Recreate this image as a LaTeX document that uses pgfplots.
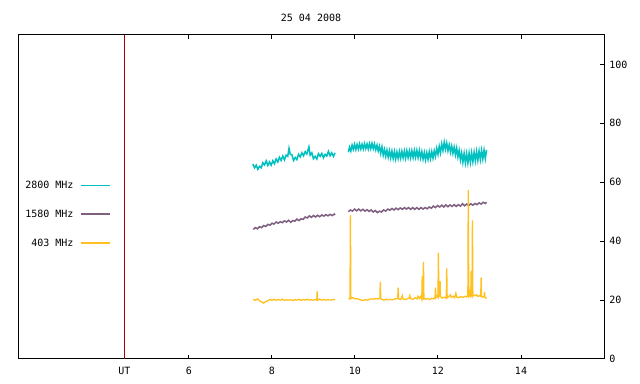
\documentclass[border=0pt]{standalone}
\usepackage{fontspec}
\setmonofont{DejaVu Sans Mono}
\usepackage{pgfplots}
\pgfplotsset{compat=1.18}
\definecolor{cCyan}{RGB}{0,192,192}
\definecolor{cPurple}{RGB}{128,96,128}
\definecolor{cGold}{RGB}{255,192,32}
\definecolor{cRed}{RGB}{165,0,0}
\newcommand{\gfont}{\fontsize{7.5}{9}\selectfont\ttfamily}
\begin{document}
\begin{tikzpicture}
\path[use as bounding box] (0,0) rectangle (480pt,288pt);
\begin{axis}[
  at={(13.5pt,18.75pt)}, anchor=south west,
  scale only axis, width=439.5pt, height=243pt,
  xmin=1.88, xmax=16, ymin=0, ymax=110,
  xtick={4.446,6,8,10,12,14}, xticklabels={UT,6,8,10,12,14},
  xtick pos=both, xticklabel pos=bottom,
  ytick={0,20,40,60,80,100}, ytick pos=right, yticklabel pos=right,
  major tick length=3pt,
  axis line style={line width=0.75pt, black},
  every tick/.style={line width=0.75pt, black},
  /pgf/number format/assume math mode=true,
  tick label style={font=\gfont},
  xticklabel style={anchor=base, yshift=-11.7pt, inner sep=0pt},
  yticklabel style={anchor=west, xshift=3.75pt, inner sep=0pt},
  title={25 04 2008},
  title style={font=\gfont, at={(0.5,1)}, anchor=base, yshift=4.35pt, inner sep=0pt},
  unbounded coords=jump,
  legend style={draw=none, fill=none, at={(axis cs:4.11,60.5)}, anchor=north east,
    inner sep=0pt, outer sep=0pt, row sep=15pt, column sep=5.25pt,
    font=\gfont, nodes={inner sep=0pt, text height=5.5pt, text depth=0pt}},
  legend plot pos=right, legend cell align=right,
  legend image code/.code={\path (0pt,-2.75pt) (0pt,2.75pt); \draw[#1, line width=1pt] (0pt,0pt) -- (21.5pt,0pt);},
]
\addplot[cCyan, line width=1.15pt] table {
x y
7.54 66.2
7.58 64.9
7.62 65.8
7.66 64.4
7.70 65.4
7.74 64.9
7.78 66.6
7.82 65.9
7.86 67.3
7.90 65.7
7.94 66.9
7.98 65.8
8.02 67.3
8.06 66.3
8.10 67.9
8.14 66.9
8.18 68.5
8.22 67.4
8.26 68.9
8.30 67.6
8.34 69.2
8.38 68.8
8.41 71.5
8.44 69.5
8.48 69.3
8.52 67.4
8.56 68.4
8.60 67.7
8.64 69.5
8.68 68.6
8.72 70.0
8.76 69.0
8.80 70.4
8.84 69.6
8.89 72.0
8.92 69.2
8.96 70.0
9.00 68.0
9.04 68.8
9.08 67.9
9.12 69.7
9.16 68.8
9.20 69.8
9.24 68.3
9.28 69.5
9.32 68.9
9.36 70.5
9.40 69.0
9.44 70.0
9.48 68.8
9.52 70.0
9.70 nan
9.84 70.2
9.87 71.9
9.90 70.6
9.93 72.6
9.96 71.2
9.99 72.9
10.02 71.1
10.05 72.8
10.08 71.2
10.11 73.0
10.14 71.3
10.17 72.9
10.20 71.3
10.23 73.1
10.26 71.4
10.29 73.0
10.32 71.3
10.35 73.1
10.38 71.4
10.41 73.2
10.44 71.4
10.47 73.0
10.50 71.0
10.53 72.6
10.56 70.6
10.59 72.2
10.62 69.8
10.65 72.0
10.68 69.2
10.71 71.1
10.74 68.8
10.77 70.9
10.80 68.5
10.83 70.7
10.86 68.3
10.89 70.6
10.92 68.1
10.95 70.4
10.98 67.9
11.01 70.3
11.04 68.1
11.07 70.4
11.10 68.2
11.13 70.5
11.16 68.3
11.19 70.6
11.22 68.2
11.25 70.7
11.28 68.4
11.31 70.6
11.34 68.3
11.37 70.7
11.40 68.4
11.43 70.8
11.46 68.5
11.49 70.8
11.52 68.4
11.55 70.8
11.58 68.3
11.61 70.4
11.64 67.9
11.67 70.1
11.70 67.6
11.73 70.0
11.76 67.8
11.79 70.3
11.82 68.0
11.85 70.4
11.88 68.2
11.91 70.7
11.94 68.8
11.97 71.5
12.00 69.5
12.03 72.2
12.06 70.0
12.09 73.0
12.12 70.8
12.15 73.6
12.18 71.2
12.21 73.3
12.24 70.7
12.27 72.7
12.30 70.2
12.33 72.3
12.36 69.8
12.39 71.9
12.42 69.3
12.45 71.6
12.48 68.6
12.51 70.8
12.54 67.6
12.57 70.0
12.60 66.8
12.63 69.8
12.66 66.6
12.69 69.7
12.72 66.6
12.75 69.9
12.78 66.8
12.81 70.0
12.84 67.0
12.87 70.2
12.90 67.3
12.93 70.4
12.96 67.5
12.99 70.6
13.02 67.7
13.05 70.8
13.08 67.9
13.11 70.9
13.14 68.0
13.17 71.0
};
\addlegendentry{2800 MHz}

\addplot[cPurple, line width=1.15pt] table {
x y
7.55 44.0
7.60 44.6
7.65 44.2
7.70 44.9
7.75 44.6
7.80 45.3
7.85 45.0
7.90 45.7
7.95 45.4
8.00 46.1
8.05 45.8
8.10 46.5
8.15 46.1
8.20 46.6
8.25 46.3
8.30 46.9
8.35 46.5
8.40 47.1
8.45 46.4
8.50 47.0
8.55 46.8
8.60 47.5
8.65 47.0
8.70 47.6
8.75 47.4
8.80 48.2
8.85 47.9
8.90 48.6
8.95 48.1
9.00 48.7
9.05 48.2
9.10 48.8
9.15 48.3
9.20 48.9
9.25 48.5
9.30 49.0
9.35 48.6
9.40 49.1
9.45 48.7
9.50 49.2
9.52 48.9
9.70 nan
9.84 50.0
9.89 50.6
9.94 50.2
9.99 50.9
10.04 50.3
10.09 50.9
10.14 50.3
10.19 50.8
10.24 50.2
10.29 50.7
10.34 50.1
10.39 50.6
10.44 49.9
10.49 50.4
10.54 49.7
10.59 50.2
10.64 49.9
10.69 50.6
10.74 50.2
10.79 50.9
10.84 50.5
10.89 51.1
10.94 50.6
10.99 51.2
11.04 50.7
11.09 51.3
11.14 50.8
11.19 51.4
11.24 50.9
11.29 51.4
11.34 50.8
11.39 51.4
11.44 50.8
11.49 51.4
11.54 50.8
11.59 51.4
11.64 50.9
11.69 51.4
11.74 51.0
11.79 51.6
11.84 51.2
11.89 51.9
11.94 51.4
11.99 52.1
12.04 51.6
12.09 52.2
12.14 51.6
12.19 52.3
12.24 51.7
12.29 52.3
12.34 51.8
12.39 52.4
12.44 51.8
12.49 52.4
12.54 51.9
12.59 52.7
12.64 52.0
12.69 52.6
12.74 52.1
12.79 52.7
12.84 52.2
12.89 52.8
12.94 52.4
12.99 53.0
13.04 52.6
13.09 53.2
13.14 52.8
13.17 53.2
};
\addlegendentry{1580 MHz}

\addplot[cGold, line width=1pt] table {
x y
7.55 20.3
7.60 19.9
7.65 20.4
7.70 19.8
7.75 19.3
7.80 19.0
7.85 19.5
7.90 19.8
7.95 20.2
8.00 19.9
8.05 20.3
8.10 19.9
8.15 20.2
8.20 20.0
8.25 20.3
8.30 19.9
8.35 20.1
8.40 20.0
8.45 20.1
8.50 19.9
8.55 20.1
8.60 20.0
8.65 20.3
8.70 19.9
8.75 20.2
8.80 20.0
8.85 20.3
8.90 20.0
8.95 20.1
9.00 20.0
9.05 20.2
9.08 20.0
9.09 23.0
9.10 20.0
9.15 20.3
9.20 20.0
9.25 20.2
9.30 20.0
9.35 20.1
9.40 20.0
9.45 20.1
9.50 20.2
9.52 20.3
9.70 nan
9.84 20.5
9.88 20.4
9.89 48.8
9.90 20.6
9.95 20.8
10.00 20.4
10.05 20.5
10.10 20.2
10.15 20.0
10.20 19.9
10.25 20.1
10.30 20.0
10.35 20.3
10.40 20.4
10.45 20.3
10.50 20.5
10.55 20.4
10.60 20.5
10.61 26.2
10.62 20.6
10.65 20.2
10.70 20.0
10.75 20.3
10.80 20.1
10.85 20.2
10.90 20.1
10.95 20.3
11.00 20.5
11.03 20.6
11.04 24.2
11.05 20.4
11.10 20.2
11.14 21.5
11.16 20.3
11.20 20.2
11.25 20.4
11.30 20.6
11.32 21.5
11.34 20.5
11.40 20.3
11.45 20.8
11.50 20.4
11.52 21.3
11.55 20.6
11.58 21.2
11.61 20.2
11.62 28.1
11.63 20.5
11.64 20.4
11.65 33.0
11.66 20.6
11.70 20.3
11.75 20.5
11.80 20.2
11.85 20.6
11.90 20.4
11.93 21.0
11.94 24.2
11.95 20.8
11.98 21.5
12.00 21.0
12.01 36.0
12.02 21.2
12.04 21.8
12.05 26.4
12.06 21.2
12.10 20.7
12.15 21.0
12.20 20.6
12.21 30.8
12.22 20.8
12.26 21.2
12.30 21.8
12.32 20.9
12.36 21.3
12.40 20.8
12.43 22.3
12.45 21.0
12.50 20.8
12.55 21.2
12.60 20.9
12.65 21.3
12.70 21.1
12.72 21.4
12.73 57.3
12.74 21.3
12.76 21.7
12.77 22.5
12.78 21.5
12.79 22.0
12.80 30.0
12.81 21.4
12.82 21.2
12.83 47.1
12.84 21.4
12.88 21.6
12.93 21.8
12.96 21.2
13.00 21.5
13.03 21.3
13.04 27.6
13.05 21.4
13.08 21.0
13.11 21.2
13.12 22.8
13.13 21.0
13.17 20.5
};
\addlegendentry{403 MHz}

\addplot[cRed, line width=0.85pt, forget plot] coordinates {(4.446,0) (4.446,110)};
\end{axis}
\end{tikzpicture}
\end{document}
